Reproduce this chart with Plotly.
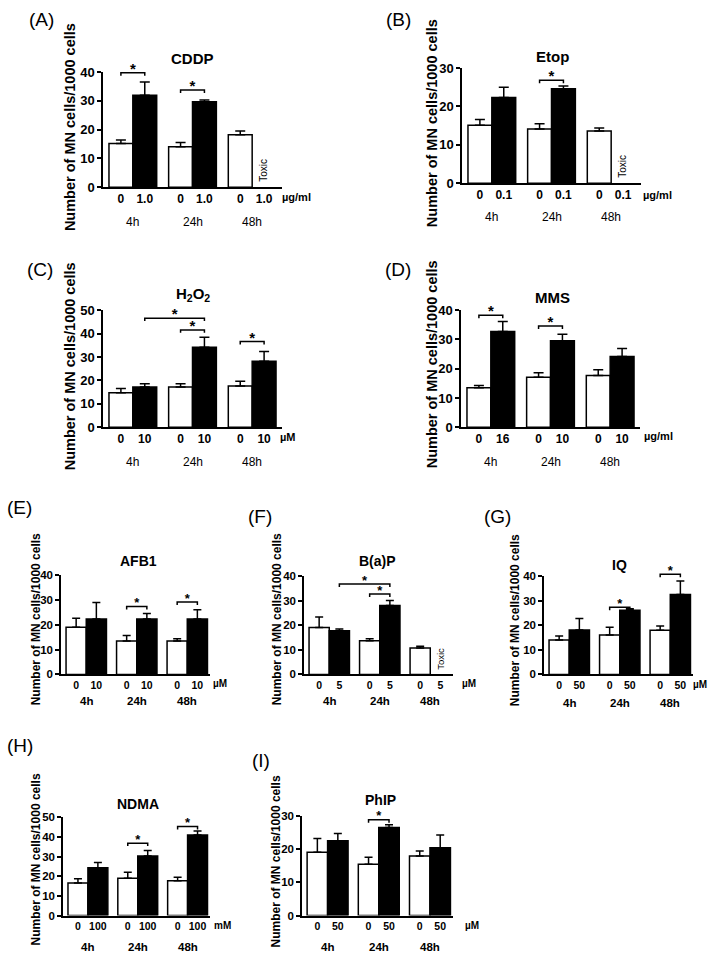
import plotly.graph_objects as go

W, H = 709, 962
FONT = "Liberation Sans, Arial, Helvetica, sans-serif"

# ---------------- data ----------------
time_labels = ["4h", "24h", "48h"]
y_title = "Number of MN cells/1000 cells"

A_title = "CDDP"
A_ctrl = [15.2, 14.0, 18.2]
A_ctrl_err = [1.2, 1.5, 1.3]
A_trt = [31.9, 29.7, None]
A_trt_err = [4.6, 0.6, None]
A_doses = ["0", "1.0", "0", "1.0", "0", "1.0"]
A_unit = "µg/ml"
A_ymax, A_dtick = 40, 10
A_brackets = [(0, 1, 39.7), (2, 3, 33.7)]
A_toxic = [5]

B_title = "Etop"
B_ctrl = [15.1, 14.1, 13.6]
B_ctrl_err = [1.5, 1.4, 0.8]
B_trt = [22.3, 24.6, None]
B_trt_err = [2.7, 0.7, None]
B_doses = ["0", "0.1", "0", "0.1", "0", "0.1"]
B_unit = "µg/ml"
B_ymax, B_dtick = 30, 10
B_brackets = [(2, 3, 26.8)]
B_toxic = [5]

C_title = "H<sub>2</sub>O<sub>2</sub>"
C_ctrl = [14.8, 17.2, 17.6]
C_ctrl_err = [1.8, 1.4, 2.1]
C_trt = [17.2, 34.2, 28.2]
C_trt_err = [1.4, 4.3, 4.2]
C_doses = ["0", "10", "0", "10", "0", "10"]
C_unit = "µM"
C_ymax, C_dtick = 50, 10
C_brackets = [(1, 3, 46.6), (2, 3, 41.6), (4, 5, 36.6)]
C_toxic = []

D_title = "MMS"
D_ctrl = [13.5, 17.1, 17.7]
D_ctrl_err = [0.8, 1.5, 2.0]
D_trt = [32.7, 29.6, 24.2]
D_trt_err = [3.4, 2.2, 2.7]
D_doses = ["0", "16", "0", "10", "0", "10"]
D_unit = "µg/ml"
D_ymax, D_dtick = 40, 10
D_brackets = [(0, 1, 38.3), (2, 3, 34.6)]
D_toxic = []

E_title = "AFB1"
E_ctrl = [19.0, 13.4, 13.4]
E_ctrl_err = [3.6, 2.3, 1.0]
E_trt = [22.3, 22.3, 22.3]
E_trt_err = [6.6, 2.2, 3.7]
E_doses = ["0", "10", "0", "10", "0", "10"]
E_unit = "µM"
E_ymax, E_dtick = 40, 10
E_brackets = [(2, 3, 27.3), (4, 5, 29.1)]
E_toxic = []

F_title = "B(a)P"
F_ctrl = [19.1, 13.7, 10.7]
F_ctrl_err = [4.2, 0.8, 0.8]
F_trt = [17.7, 28.0, None]
F_trt_err = [0.8, 2.0, None]
F_doses = ["0", "5", "0", "5", "0", "5"]
F_unit = "µM"
F_ymax, F_dtick = 40, 10
F_brackets = [(1, 3, 36.7), (2, 3, 32.7)]
F_toxic = [5]

G_title = "IQ"
G_ctrl = [14.0, 16.0, 18.0]
G_ctrl_err = [1.6, 3.2, 1.7]
G_trt = [18.1, 26.1, 32.5]
G_trt_err = [4.6, 0.6, 5.5]
G_doses = ["0", "50", "0", "50", "0", "50"]
G_unit = "µM"
G_ymax, G_dtick = 40, 10
G_brackets = [(2, 3, 27.3), (4, 5, 40.7)]
G_toxic = []

H_title = "NDMA"
H_ctrl = [16.6, 19.0, 17.7]
H_ctrl_err = [2.1, 3.0, 1.8]
H_trt = [24.3, 30.3, 40.9]
H_trt_err = [2.7, 2.8, 2.1]
H_doses = ["0", "100", "0", "100", "0", "100"]
H_unit = "mM"
H_ymax, H_dtick = 50, 10
H_brackets = [(2, 3, 36.8), (4, 5, 45.2)]
H_toxic = []

I_title = "PhIP"
I_ctrl = [19.1, 15.5, 18.0]
I_ctrl_err = [4.2, 2.1, 1.5]
I_trt = [22.6, 26.6, 20.5]
I_trt_err = [2.2, 0.8, 3.8]
I_doses = ["0", "50", "0", "50", "0", "50"]
I_unit = "µM"
I_ymax, I_dtick = 30, 10
I_brackets = [(2, 3, 28.9)]
I_toxic = []

panels = [
    ("A", A_title, A_ctrl, A_ctrl_err, A_trt, A_trt_err, A_doses, A_unit, A_ymax, A_dtick, A_brackets, A_toxic),
    ("B", B_title, B_ctrl, B_ctrl_err, B_trt, B_trt_err, B_doses, B_unit, B_ymax, B_dtick, B_brackets, B_toxic),
    ("C", C_title, C_ctrl, C_ctrl_err, C_trt, C_trt_err, C_doses, C_unit, C_ymax, C_dtick, C_brackets, C_toxic),
    ("D", D_title, D_ctrl, D_ctrl_err, D_trt, D_trt_err, D_doses, D_unit, D_ymax, D_dtick, D_brackets, D_toxic),
    ("E", E_title, E_ctrl, E_ctrl_err, E_trt, E_trt_err, E_doses, E_unit, E_ymax, E_dtick, E_brackets, E_toxic),
    ("F", F_title, F_ctrl, F_ctrl_err, F_trt, F_trt_err, F_doses, F_unit, F_ymax, F_dtick, F_brackets, F_toxic),
    ("G", G_title, G_ctrl, G_ctrl_err, G_trt, G_trt_err, G_doses, G_unit, G_ymax, G_dtick, G_brackets, G_toxic),
    ("H", H_title, H_ctrl, H_ctrl_err, H_trt, H_trt_err, H_doses, H_unit, H_ymax, H_dtick, H_brackets, H_toxic),
    ("I", I_title, I_ctrl, I_ctrl_err, I_trt, I_trt_err, I_doses, I_unit, I_ymax, I_dtick, I_brackets, I_toxic),
]

# ---------------- layout geometry (pixels) ----------------
geom = {
    "A": dict(box=(103, 282, 66, 183), big=True, lab=(41, 13), ytl=(70, 122), ttl=(192, 52), unit=(296, 193), time_y=218, xr=2.5),
    "B": dict(box=(462, 641, 62, 179), big=True, lab=(398, 13), ytl=(432, 118), ttl=(552, 50), unit=(657, 191), time_y=213, xr=2.5),
    "C": dict(box=(103, 282, 308, 427), big=True, lab=(40, 267), ytl=(70, 365), ttl=(193, 292), unit=(288, 437), time_y=462, xr=2.5),
    "D": dict(box=(461, 640, 308, 427), big=True, lab=(398, 267), ytl=(432, 363), ttl=(552, 295), unit=(658, 436), time_y=462, xr=2.5),
    "E": dict(box=(61, 210, 577, 678), big=False, lab=(19, 508), ytl=(36, 622), ttl=(138, 563), unit=(220, 687), time_y=705, xr=2.45),
    "F": dict(box=(304, 453, 578, 678), big=False, lab=(260, 518), ytl=(277, 622), ttl=(378, 563), unit=(469, 687), time_y=705, xr=2.45),
    "G": dict(box=(544, 693, 578, 678), big=False, lab=(497, 518), ytl=(515, 623), ttl=(619, 567), unit=(700, 688), time_y=707, xr=2.45),
    "H": dict(box=(63, 210, 823, 923), big=False, lab=(20, 750), ytl=(36, 866), ttl=(138, 810), unit=(222, 933), time_y=955, xr=2.45),
    "I": dict(box=(302, 453, 822, 923), big=False, lab=(261, 765), ytl=(276, 868), ttl=(380, 806), unit=(472, 933), time_y=955, xr=2.45),
}

def fx(px):
    return px / W

def fy(py):
    return 1 - py / H

def ann(text, x, y, size, bold=False, xref="paper", yref="paper", angle=0,
        xanchor="center", yanchor="middle", yshift=0, xshift=0):
    return dict(text=text, x=x, y=y, xref=xref, yref=yref, showarrow=False,
                textangle=angle, xanchor=xanchor, yanchor=yanchor,
                yshift=yshift, xshift=xshift,
                font=dict(size=size, family=FONT, color="black",
                          weight="bold" if bold else "normal"))

fig = go.Figure()
layout = dict(width=W, height=H, margin=dict(l=0, r=0, t=0, b=0),
              paper_bgcolor="white", plot_bgcolor="rgba(0,0,0,0)", showlegend=False,
              font=dict(family=FONT, color="black"))
annotations = []

OFF = 0.2
BW = 0.4
EXT = 1.35

for i, (pid, title, ctrl, cerr, trt, terr, doses, unit, ymax, dtick, brackets, toxic) in enumerate(panels):
    g = geom[pid]
    n = i + 1
    sx = "" if n == 1 else str(n)
    xref, yref = "x" + sx, "y" + sx
    yb = "y" + str(n + 9)
    x0, x1, yt, ybot = g["box"]
    big = g["big"]
    groups = list(range(len(time_labels)))
    bar_pos = []
    for gi in groups:
        bar_pos += [gi - OFF, gi + OFF]

    ydom = [fy(ybot), fy(yt)]
    hfrac = ydom[1] - ydom[0]

    tick_size = 13 if big else 11.5
    dose_size = 12 if big else 10.5
    cap = 5 if big else 4

    layout["xaxis" + sx] = dict(domain=[fx(x0), fx(x1)], range=[-0.5, g["xr"]], anchor=yref,
                               showline=True, linecolor="black", linewidth=1.5, ticks="",
                               tickmode="array", tickvals=bar_pos, ticktext=doses,
                               tickfont=dict(size=dose_size, family=FONT, color="black", weight="bold"),
                               showgrid=False, zeroline=False, fixedrange=True)
    layout["yaxis" + sx] = dict(domain=ydom, range=[0, ymax], anchor=xref, dtick=dtick, tick0=0,
                               showline=True, linecolor="black", linewidth=1.5,
                               ticks="outside", ticklen=4, tickwidth=1.5, tickcolor="black",
                               tickfont=dict(size=tick_size, family=FONT, color="black", weight="bold"),
                               showgrid=False, zeroline=False, fixedrange=True)
    layout["yaxis" + str(n + 9)] = dict(domain=[ydom[0], min(1.0, ydom[0] + hfrac * EXT)],
                                        range=[0, ymax * EXT], anchor=xref, visible=False,
                                        showgrid=False, zeroline=False, fixedrange=True)

    # bars
    for vals, errs, col, sign in ((ctrl, cerr, "white", -1), (trt, terr, "black", 1)):
        fig.add_trace(go.Bar(
            x=[gi + sign * OFF for gi in groups], y=vals, width=BW,
            marker=dict(color=col, line=dict(color="black", width=1.5)),
            error_y=dict(type="data", symmetric=False, array=errs,
                         arrayminus=[0] * len(groups), color="black",
                         thickness=1.5, width=cap),
            xaxis=xref, yaxis=yref, hoverinfo="skip"))

    # significance brackets
    drop = 3.0 * ymax / (ybot - yt)
    bx, by, sxs, sys = [], [], [], []
    for a, b, lvl in brackets:
        xa_, xb_ = bar_pos[a], bar_pos[b]
        bx += [xa_, xa_, xb_, xb_, None]
        by += [lvl - drop, lvl, lvl, lvl - drop, None]
        sxs.append((xa_ + xb_) / 2)
        sys.append(lvl + 0.9 * drop)
    if brackets:
        fig.add_trace(go.Scatter(x=bx, y=by, mode="lines", line=dict(color="black", width=1.5),
                                 xaxis=xref, yaxis=yb, hoverinfo="skip", cliponaxis=False))
        fig.add_trace(go.Scatter(x=sxs, y=sys, mode="text", text=["*"] * len(sxs),
                                 textposition="middle center",
                                 textfont=dict(size=15 if big else 13, family=FONT, color="black", weight="bold"),
                                 xaxis=xref, yaxis=yb, hoverinfo="skip", cliponaxis=False))

    # toxic labels
    for k in toxic:
        annotations.append(ann("Toxic", bar_pos[k], 0, 10 if big else 9.5, xref=xref, yref=yref,
                               angle=-90, yanchor="bottom", yshift=3))

    # time labels
    for gi, tl in zip(groups, time_labels):
        annotations.append(ann(tl, gi, fy(g["time_y"]), 12 if big else 11.5, bold=not big,
                               xref=xref))

    annotations.append(ann(unit, fx(g["unit"][0]), fy(g["unit"][1]), 11 if big else 10, bold=True))
    annotations.append(ann(title, fx(g["ttl"][0]), fy(g["ttl"][1]), 15 if big else 14, bold=True))
    annotations.append(ann(y_title, fx(g["ytl"][0]), fy(g["ytl"][1]), 14.5 if big else 12,
                           bold=True, angle=-90))
    annotations.append(ann("(" + pid + ")", fx(g["lab"][0]), fy(g["lab"][1]), 19))

layout["annotations"] = annotations
layout["barmode"] = "overlay"
fig.update_layout(**layout)
fig.write_html("out.html", config={"displayModeBar": False},
               post_script="document.body.style.margin='0';document.body.style.overflow='hidden';")
